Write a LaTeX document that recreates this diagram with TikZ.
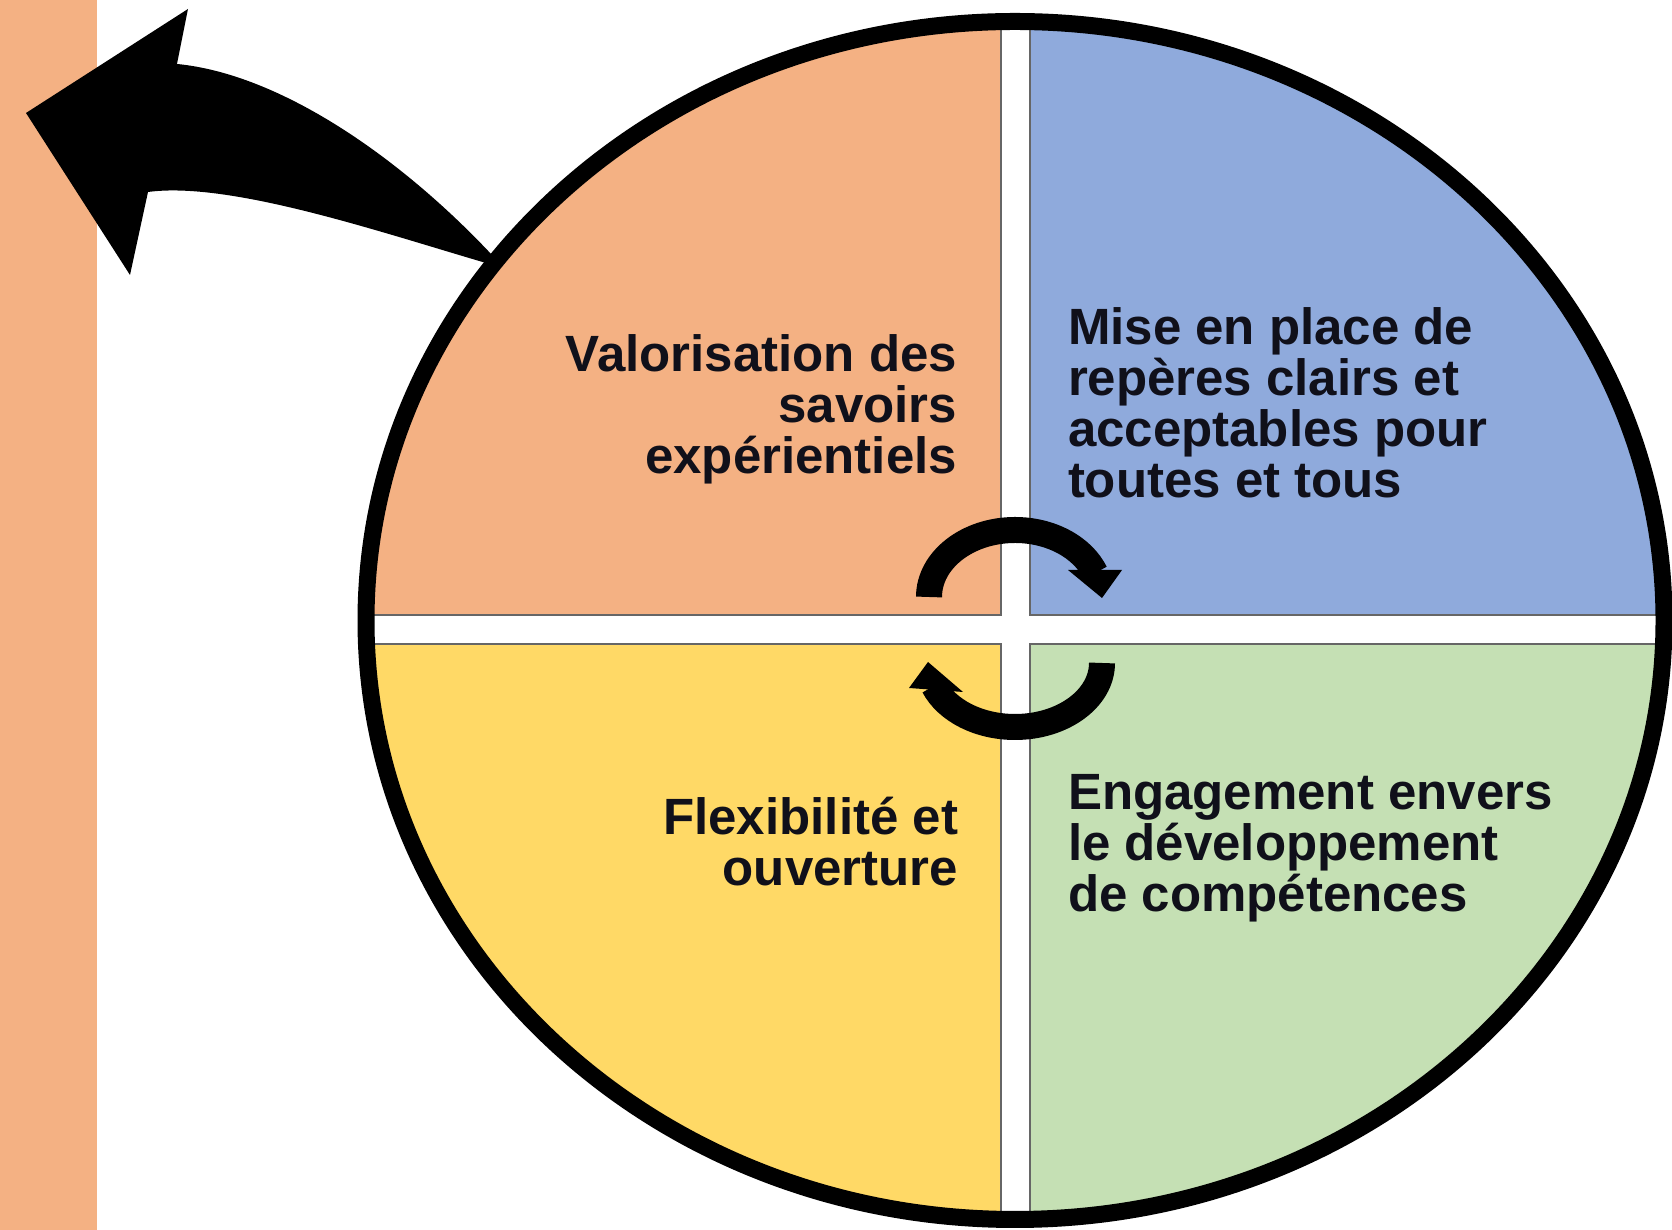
\documentclass[tikz,border=0pt]{standalone}
\usepackage{fontspec}
\setmainfont{Liberation Sans}
\definecolor{qorange}{HTML}{F4B183}
\definecolor{qblue}{HTML}{8FAADC}
\definecolor{qyellow}{HTML}{FFD966}
\definecolor{qgreen}{HTML}{C5E0B4}
\definecolor{txt}{HTML}{10101A}
\begin{document}
\begin{tikzpicture}[x=1pt,y=1pt,
  quad/.style={draw=black!60,line width=1.5pt},
  lbl/.style={font=\fontsize{51}{51}\selectfont\bfseries,text=txt,inner sep=0pt,outer sep=0pt},
  cyc/.style={line width=26pt},
  cychead/.style={fill=black}]
\useasboundingbox (0,0) rectangle (1672,1230);
\fill[white] (0,0) rectangle (1672,1230);
\fill[qorange] (0,0) rectangle (97,1230);
% quadrants
\begin{scope}
\clip (1015,609.5) ellipse [x radius=649, y radius=599];
\filldraw[quad,fill=qorange] (300,615) rectangle (1001,1300);
\filldraw[quad,fill=qblue] (1030,615) rectangle (1750,1300);
\filldraw[quad,fill=qyellow] (300,-50) rectangle (1001,586);
\filldraw[quad,fill=qgreen] (1030,-50) rectangle (1750,586);
\end{scope}
\draw[line width=17pt] (1015,609.5) ellipse [x radius=649, y radius=599];
% big arrow
\fill[black] (26,1117) -- (188,1221) -- (177,1166)
  .. controls (280,1156) and (400,1073) .. (492,975) -- (486,967)
  .. controls (380,998) and (230,1049) .. (148,1038) -- (130,955) -- cycle;
% cycle arrows
\draw[cyc] (929,633) arc[start angle=180,end angle=21,x radius=86,y radius=67];
\fill[cychead] (1068,660) -- (1122,660) -- (1102,632) -- cycle;
\draw[cyc] (1102,567) arc[start angle=0,end angle=-159,x radius=87,y radius=64];
\fill[cychead] (909,542) -- (963,538) -- (928,568) -- cycle;
% texts
\node[lbl,align=right,anchor=base east] (tl) at (957,756) {Valorisation des\\savoirs\\expérientiels};
\node[lbl,align=left,anchor=base west] (tr) at (1068,732) {Mise en place de\\repères clairs et\\acceptables pour\\toutes et tous};
\node[lbl,align=right,anchor=base east] (bl) at (958,344) {Flexibilité et\\ouverture};
\node[lbl,align=left,anchor=base west] (br) at (1068,318) {Engagement envers\\le développement\\de compétences};
\end{tikzpicture}
\end{document}
